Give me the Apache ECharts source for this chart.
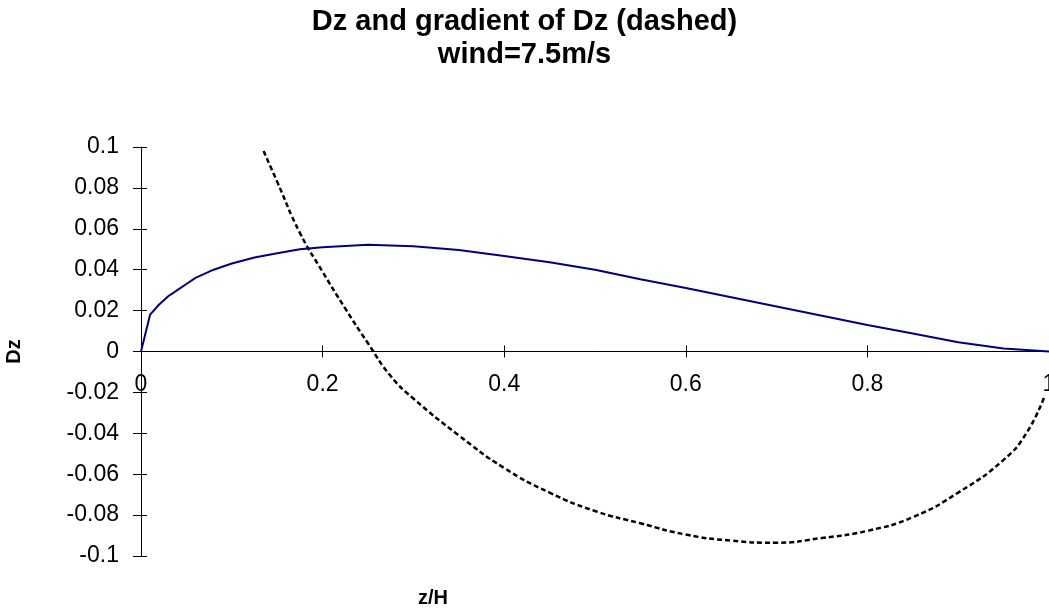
<!DOCTYPE html>
<html>
<head>
<meta charset="utf-8">
<script src="https://cdn.jsdelivr.net/npm/echarts@6/dist/echarts.min.js"></script>
<style>
  html, body { margin: 0; padding: 0; background: #fff; }
  #chart { width: 1049px; height: 612px; }
</style>
</head>
<body>
<div id="chart"></div>
<script>
// Dz profile (solid blue)
const dzX = [0, 0.01, 0.02, 0.03, 0.04, 0.05, 0.06, 0.08, 0.1, 0.125, 0.15, 0.175, 0.2, 0.25, 0.3, 0.35, 0.4, 0.45, 0.5, 0.55, 0.6, 0.65, 0.7, 0.75, 0.8, 0.85, 0.9, 0.95, 1.0];
const dzY = [0, 0.018, 0.023, 0.027, 0.030, 0.033, 0.036, 0.040, 0.043, 0.046, 0.048, 0.050, 0.051, 0.0522, 0.0515, 0.0496, 0.0467, 0.0436, 0.0400, 0.0353, 0.0310, 0.0265, 0.0220, 0.0175, 0.0130, 0.0088, 0.0045, 0.0015, 0.0];

// gradient of Dz (dashed black)
const gradX = [0.135, 0.15, 0.175, 0.2, 0.225, 0.25, 0.275, 0.3, 0.35, 0.4, 0.45, 0.5, 0.55, 0.6, 0.65, 0.7, 0.75, 0.8, 0.85, 0.9, 0.95, 0.975, 0.995];
const gradY = [0.098, 0.083, 0.058, 0.039, 0.021, 0.004, -0.012, -0.023, -0.041, -0.057, -0.069, -0.078, -0.084, -0.0895, -0.0925, -0.0935, -0.0912, -0.0877, -0.081, -0.069, -0.053, -0.040, -0.022];

const xTicks = [0, 0.2, 0.4, 0.6, 0.8, 1];
const yTicks = [-0.1, -0.08, -0.06, -0.04, -0.02, 0, 0.02, 0.04, 0.06, 0.08, 0.1];

const font = 'Liberation Sans, Arial, sans-serif';
const pair = (xs, ys) => xs.map((x, i) => [x, ys[i]]);
const fmt = v => String(+v.toFixed(2));

const myChart = echarts.init(document.getElementById('chart'));

// x axis sits at Dz = 0, i.e. halfway up the grid
const gridTop = 147, gridBottom = 56;
const zeroOffset = -(612 - gridTop - gridBottom) / 2;

const option = {
  backgroundColor: '#fff',
  animation: false,
  title: [
    {
      text: 'Dz and gradient of Dz (dashed)\nwind=7.5m/s',
      left: 'center',
      top: 0,
      textStyle: { fontFamily: font, fontWeight: 'bold', fontSize: 29, lineHeight: 33, color: '#000' }
    },
    {
      text: 'z/H',
      left: 413,
      top: 583,
      textStyle: { fontFamily: font, fontWeight: 'bold', fontSize: 20, color: '#000' }
    }
  ],
  grid: { left: 141, right: 0, top: gridTop, bottom: gridBottom, containLabel: false, outerBoundsMode: 'none' },
  xAxis: [
    {
      type: 'value', min: 0, max: 1, interval: 0.2,
      position: 'bottom', offset: zeroOffset,
      axisLine: { onZero: false, lineStyle: { color: '#000', width: 1 } },
      axisTick: { show: true, inside: false, length: 6, lineStyle: { color: '#000' } },
      axisLabel: {
        margin: 22, fontFamily: font, fontSize: 23, color: '#000',
        showMinLabel: true, showMaxLabel: true, hideOverlap: false,
        formatter: v => xTicks.includes(+v.toFixed(2)) ? fmt(v) : ''
      },
      splitLine: { show: false }
    },
    {
      type: 'value', min: 0, max: 1, interval: 0.2,
      position: 'bottom', offset: zeroOffset,
      axisLine: { show: false, onZero: false },
      axisTick: { show: true, inside: true, length: 6, lineStyle: { color: '#000' } },
      axisLabel: { show: false },
      splitLine: { show: false }
    }
  ],
  yAxis: [
    {
      type: 'value', min: -0.1, max: 0.1, interval: 0.02,
      position: 'left',
      name: 'Dz', nameLocation: 'middle', nameGap: 117,
      nameTextStyle: { fontFamily: font, fontWeight: 'bold', fontSize: 20, color: '#000' },
      axisLine: { onZero: false, lineStyle: { color: '#000', width: 1 } },
      axisTick: { show: true, inside: false, length: 8, lineStyle: { color: '#000' } },
      axisLabel: {
        margin: 22, fontFamily: font, fontSize: 23, color: '#000',
        formatter: v => yTicks.includes(+v.toFixed(2)) ? fmt(v) : ''
      },
      splitLine: { show: false }
    },
    {
      type: 'value', min: -0.1, max: 0.1, interval: 0.02,
      position: 'left',
      axisLine: { show: false, onZero: false },
      axisTick: { show: true, inside: true, length: 6, lineStyle: { color: '#000' } },
      axisLabel: { show: false },
      splitLine: { show: false }
    }
  ],
  series: [
    {
      name: 'Dz',
      type: 'line',
      data: pair(dzX, dzY),
      showSymbol: false,
      lineStyle: { color: '#000080', width: 2 },
      z: 3
    },
    {
      name: 'gradient of Dz',
      type: 'line',
      data: pair(gradX, gradY),
      showSymbol: false,
      smooth: true,
      lineStyle: { color: '#000', width: 2.5, type: [5, 3] },
      z: 2
    }
  ]
};

myChart.setOption(option);
</script>
</body>
</html>
